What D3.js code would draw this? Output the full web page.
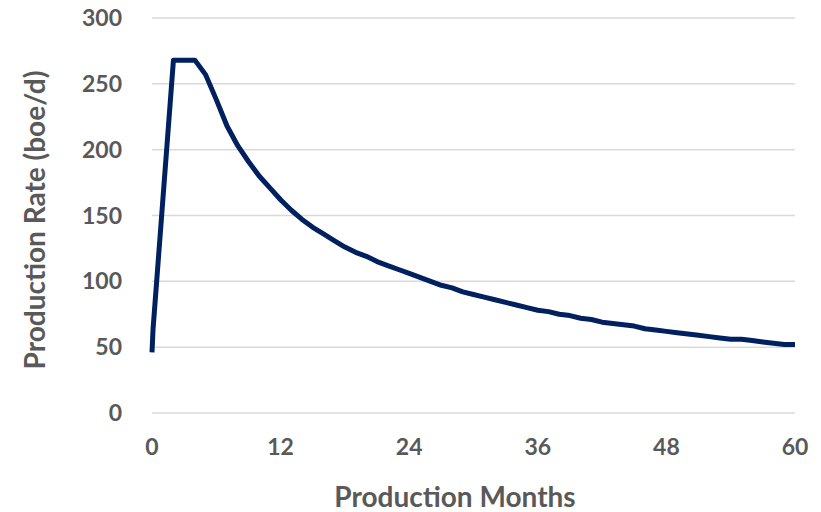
<!DOCTYPE html>
<html><head><meta charset="utf-8">
<script src="https://cdn.jsdelivr.net/npm/d3@7"></script>
<style>body{margin:0;background:#fff}</style>
</head><body>
<svg id="c" width="821" height="512"></svg>
<script>
const months = [0, 0.1, 2, 3, 4, 5, 6, 7, 8, 9, 10, 11, 12, 13, 14, 15, 16, 17, 18, 19, 20,
  21, 22, 23, 24, 25, 26, 27, 28, 29, 30, 31, 32, 33, 34, 35, 36, 37, 38, 39, 40,
  41, 42, 43, 44, 45, 46, 47, 48, 49, 50, 51, 52, 53, 54, 55, 56, 57, 58, 59, 60];
const rates = [46, 64, 268, 268, 268, 257, 238, 218, 203, 191, 180, 171, 162, 154, 147, 141, 136, 131, 126, 122, 119,
  115, 112, 109, 106, 103, 100, 97, 95, 92, 90, 88, 86, 84, 82, 80, 78, 77, 75, 74, 72,
  71, 69, 68, 67, 66, 64, 63, 62, 61, 60, 59, 58, 57, 56, 56, 55, 54, 53, 52, 52];
const xTicks = [0, 12, 24, 36, 48, 60];
const yTicks = [0, 50, 100, 150, 200, 250, 300];

const svg = d3.select("#c");
const x = d3.scaleLinear().domain([0, 60]).range([152, 795]);
const y = d3.scaleLinear().domain([0, 300]).range([413, 18]);
const font = "Lato, 'Open Sans', sans-serif";
const grey = "#595959";

svg.append("g").selectAll("line").data(yTicks).join("line")
  .attr("x1", x(0)).attr("x2", x(60))
  .attr("y1", d => y(d)).attr("y2", d => y(d))
  .attr("stroke", "#d9d9d9").attr("stroke-width", 1.5);

svg.append("g").selectAll("text").data(yTicks).join("text")
  .attr("x", 122).attr("y", d => y(d)).attr("dy", "0.35em")
  .attr("text-anchor", "end")
  .attr("font-family", font).attr("font-weight", "bold").attr("font-size", 23)
  .attr("fill", grey).text(d => d);

svg.append("g").selectAll("text").data(xTicks).join("text")
  .attr("x", d => x(d)).attr("y", 455)
  .attr("text-anchor", "middle")
  .attr("font-family", font).attr("font-weight", "bold").attr("font-size", 23)
  .attr("fill", grey).text(d => d);

svg.append("text").attr("x", 455).attr("y", 507).attr("text-anchor", "middle")
  .attr("font-family", font).attr("font-weight", "bold").attr("font-size", 28)
  .attr("fill", grey).text("Production Months");

svg.append("text").attr("transform", "translate(45,220) rotate(-90)").attr("text-anchor", "middle")
  .attr("font-family", font).attr("font-weight", "bold").attr("font-size", 28)
  .attr("fill", grey).text("Production Rate (boe/d)");

const pts = months.map((m, i) => [m, rates[i]]);
svg.append("path").datum(pts)
  .attr("d", d3.line().x(d => x(d[0])).y(d => y(d[1])))
  .attr("fill", "none").attr("stroke", "#002060").attr("stroke-width", 5)
  .attr("stroke-linejoin", "round");
</script>
</body></html>
